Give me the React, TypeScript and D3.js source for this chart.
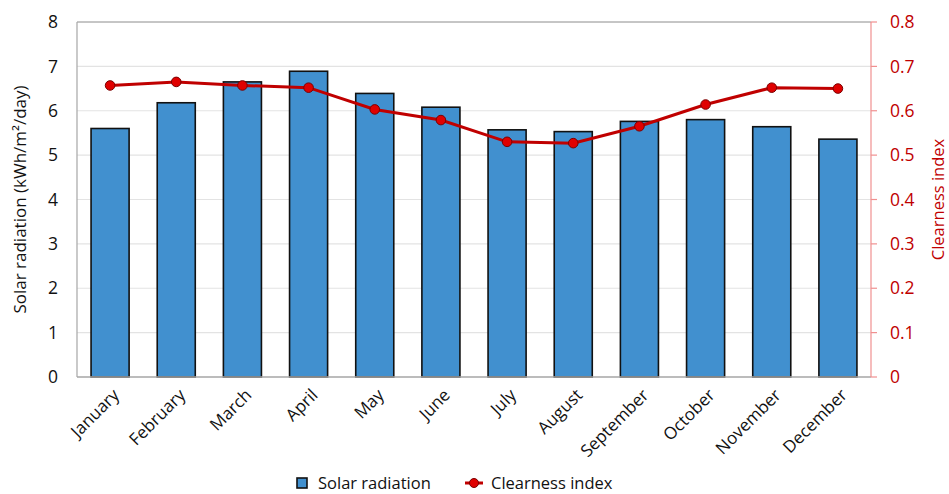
import React from "react";
import * as d3 from "d3";

// Monthly solar radiation and clearness index
const months = [
  "January", "February", "March", "April", "May", "June",
  "July", "August", "September", "October", "November", "December",
];
const solarRadiation = [5.6, 6.18, 6.65, 6.89, 6.39, 6.08, 5.57, 5.53, 5.76, 5.8, 5.64, 5.36];
const clearnessIndex = [0.657, 0.665, 0.657, 0.652, 0.603, 0.579, 0.53, 0.527, 0.565, 0.614, 0.652, 0.65];
const leftTicks = [0, 1, 2, 3, 4, 5, 6, 7, 8];
const rightTicks = [0, 0.1, 0.2, 0.3, 0.4, 0.5, 0.6, 0.7, 0.8];

const W = 949;
const H = 494;
const margin = { left: 77, right: 78, top: 22, bottom: 117 };
const FONT = "'Open Sans', 'Noto Sans', sans-serif";
const BAR_FILL = "#4190CF";
const RED = "#C00000";
const LEGEND_Y = 483;

export default function App() {
  const x = d3
    .scaleBand<string>()
    .domain(months)
    .range([margin.left, W - margin.right])
    .paddingInner(0.425)
    .paddingOuter(0.2125);
  const yL = d3.scaleLinear().domain([0, 8]).range([H - margin.bottom, margin.top]);
  const yR = d3.scaleLinear().domain([0, 0.8]).range([H - margin.bottom, margin.top]);
  const cx = (m: string) => (x(m) as number) + x.bandwidth() / 2;

  const line = d3
    .line<number>()
    .x((_, i) => cx(months[i]))
    .y((d) => yR(d));

  const x0 = margin.left;
  const x1 = W - margin.right;
  const yBottom = yL(0);
  const yTop = yL(8);

  return (
    <svg width={W} height={H} style={{ display: "block", position: "absolute", left: 0, top: 0 }} fontFamily={FONT}>
      <rect width={W} height={H} fill="#fff" />
      {/* grid */}
      {leftTicks.slice(1, -1).map((t) => (
        <line key={t} x1={x0} x2={x1} y1={yL(t)} y2={yL(t)} stroke="#E3E3E3" strokeWidth={1.2} />
      ))}
      {/* frame */}
      <line x1={x0} x2={x1} y1={yTop} y2={yTop} stroke="#8C8C8C" strokeWidth={1} />
      <line x1={x0} x2={x0} y1={yTop} y2={yBottom} stroke="#A6A6A6" strokeWidth={1.2} />

      {/* bars */}
      {solarRadiation.map((v, i) => (
        <rect
          key={months[i]}
          x={x(months[i])}
          y={yL(v)}
          width={x.bandwidth()}
          height={yBottom - yL(v)}
          fill={BAR_FILL}
          stroke="#111"
          strokeWidth={1.6}
        />
      ))}
      <line x1={x0} x2={x1} y1={yBottom} y2={yBottom} stroke="#A6A6A6" strokeWidth={1.5} />

      {/* right axis */}
      <line x1={x1} x2={x1} y1={yTop} y2={yBottom} stroke="#F09090" strokeWidth={1.2} />
      {rightTicks.map((t) => (
        <g key={t}>
          <line x1={x1} x2={x1 + 6} y1={yR(t)} y2={yR(t)} stroke="#F09090" strokeWidth={1.2} />
          <text x={x1 + 19} y={yR(t)} dy="0.35em" fill={RED} fontSize={17.5}>
            {t === 0 ? "0" : t.toFixed(1)}
          </text>
        </g>
      ))}

      {/* left axis labels */}
      {leftTicks.map((t) => (
        <text key={t} x={58} y={yL(t)} dy="0.35em" textAnchor="end" fill="#111" fontSize={17.5}>
          {t}
        </text>
      ))}

      {/* clearness index line */}
      <path d={line(clearnessIndex) || ""} fill="none" stroke={RED} strokeWidth={3} />
      {clearnessIndex.map((v, i) => (
        <circle key={months[i]} cx={cx(months[i])} cy={yR(v)} r={4.8} fill="#E00000" stroke="#7A0000" strokeWidth={1} />
      ))}

      {/* month labels */}
      {months.map((m) => (
        <text
          key={m}
          transform={`translate(${cx(m) + 6},${yBottom + 15}) rotate(-45)`}
          textAnchor="end"
          dy="0.35em"
          fontSize={17}
          fill="#111"
        >
          {m}
        </text>
      ))}

      {/* axis titles */}
      <text
        transform={`translate(26,${(yTop + yBottom) / 2}) rotate(-90)`}
        textAnchor="middle"
        fontSize={17}
        fill="#111"
      >
        Solar radiation (kWh/m²/day)
      </text>
      <text
        transform={`translate(944,${(yTop + yBottom) / 2}) rotate(-90)`}
        textAnchor="middle"
        fontSize={16.5}
        fill={RED}
      >
        Clearness index
      </text>

      {/* legend */}
      <rect x={297} y={LEGEND_Y - 5} width={10} height={10} fill={BAR_FILL} stroke="#111" strokeWidth={1.6} />
      <text x={318} y={LEGEND_Y} dy="0.35em" fontSize={16.5} fill="#111">
        Solar radiation
      </text>
      <line x1={465} x2={483} y1={LEGEND_Y} y2={LEGEND_Y} stroke={RED} strokeWidth={3} />
      <circle cx={474} cy={LEGEND_Y} r={4.5} fill="#E00000" stroke="#7A0000" strokeWidth={1} />
      <text x={491} y={LEGEND_Y} dy="0.35em" fontSize={16.5} fill="#111">
        Clearness index
      </text>
    </svg>
  );
}
